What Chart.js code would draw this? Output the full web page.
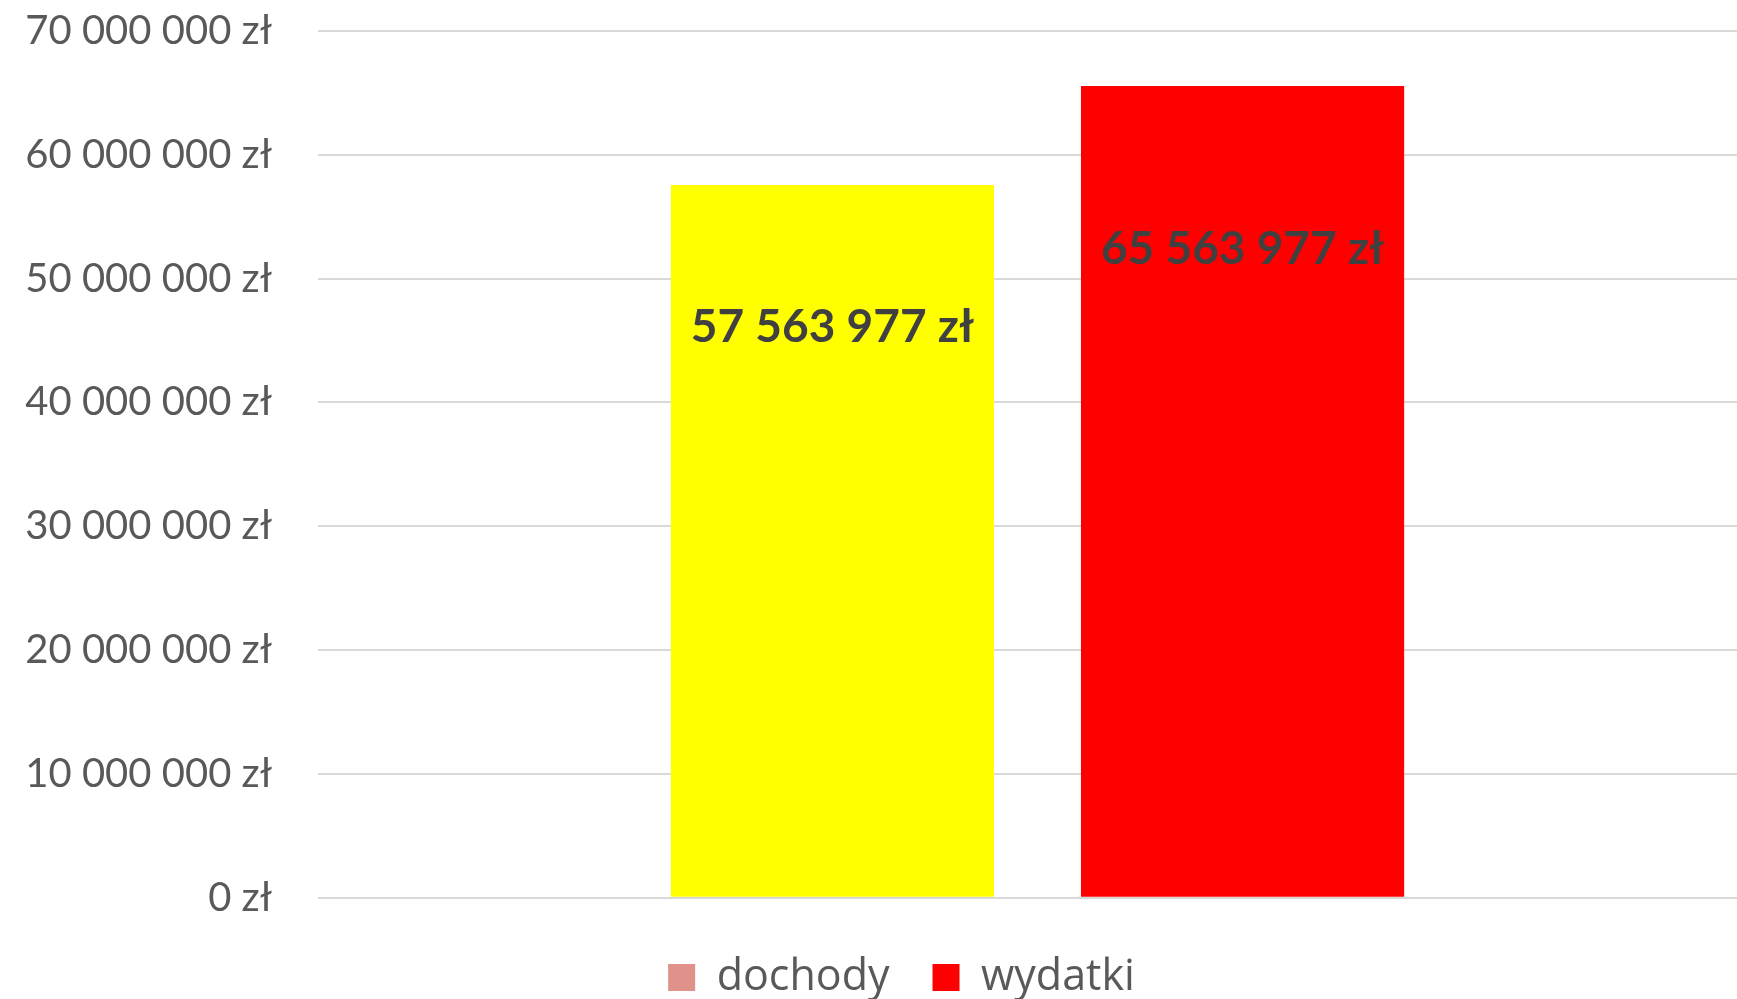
<!DOCTYPE html>
<html>
<head>
<meta charset="utf-8">
<script src="https://cdn.jsdelivr.net/npm/chart.js@4"></script>
<style>
  html, body { margin: 0; padding: 0; background: #fff; overflow: hidden; }
  #chart { display: block; }
</style>
</head>
<body>
<canvas id="chart" width="1834" height="999"></canvas>
<script>
const categories = [""];
const seriesNames = ["dochody", "wydatki"];
const dochody = [57563977];
const wydatki = [65563977];
const barColors = ["#ffff00", "#ff0000"];
const legendColors = ["#e0918a", "#ff0000"];
const yMax = 70000000;
const yStep = 10000000;

// distance from bar top to label centre, per dataset
const labelOffsets = [142, 163];
const legendShift = 23;

function zl(v) {
  return String(v).replace(/\B(?=(\d{3})+(?!\d))/g, " ") + " zł";
}

const barLabels = {
  id: "barLabels",
  afterDatasetsDraw(chart) {
    const ctx = chart.ctx;
    ctx.save();
    ctx.font = "bold 46px Lato";
    ctx.fillStyle = "#404040";
    ctx.textAlign = "center";
    ctx.textBaseline = "middle";
    chart.data.datasets.forEach((ds, i) => {
      chart.getDatasetMeta(i).data.forEach((bar, j) => {
        ctx.fillText(zl(ds.data[j]), bar.x, bar.y + labelOffsets[i]);
      });
    });
    ctx.restore();
  }
};

// nudge the legend a bit to the right, like the original
const legendNudge = {
  id: "legendNudge",
  afterLayout(chart) {
    chart.legend.left += legendShift;
    chart.legend.right += legendShift;
  }
};

new Chart(document.getElementById("chart"), {
  type: "bar",
  data: {
    labels: categories,
    datasets: [
      { label: seriesNames[0], data: dochody, backgroundColor: barColors[0] },
      { label: seriesNames[1], data: wydatki, backgroundColor: barColors[1] }
    ]
  },
  options: {
    responsive: false,
    animation: false,
    devicePixelRatio: 1,
    categoryPercentage: 0.57,
    barPercentage: 0.788,
    layout: { padding: { top: 31, right: 77, bottom: -10, left: 0 } },
    plugins: {
      tooltip: { enabled: false },
      legend: {
        position: "bottom",
        labels: {
          color: "#595959",
          font: { family: "Open Sans", size: 43 },
          boxWidth: 27,
          boxHeight: 27,
          padding: 43,
          generateLabels(chart) {
            return chart.data.datasets.map((ds, i) => ({
              text: ds.label,
              fillStyle: legendColors[i],
              strokeStyle: legendColors[i],
              lineWidth: 0,
              fontColor: "#595959",
              datasetIndex: i
            }));
          }
        }
      }
    },
    scales: {
      x: {
        grid: { display: false },
        border: { display: false },
        ticks: { font: { size: 6 }, padding: 0 }
      },
      y: {
        min: 0,
        max: yMax,
        ticks: {
          stepSize: yStep,
          color: "#595959",
          font: { family: "Lato", size: 40 },
          padding: 46,
          callback: (v) => zl(v)
        },
        grid: { color: "#d9d9d9", lineWidth: 2, drawTicks: false },
        border: { display: false },
        afterFit(scale) {
          scale.width = 318;
          scale.paddingTop = 0;
          scale.paddingBottom = 0;
        }
      }
    }
  },
  plugins: [barLabels, legendNudge]
});
</script>
</body>
</html>
